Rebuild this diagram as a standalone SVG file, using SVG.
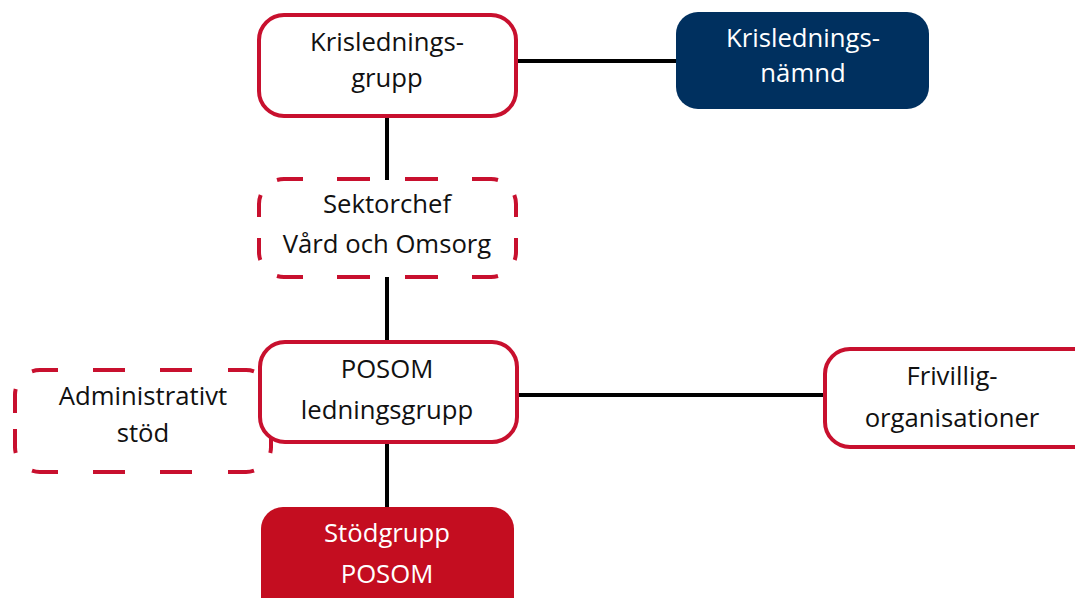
<svg xmlns="http://www.w3.org/2000/svg" width="1075" height="598" viewBox="0 0 1075 598">
<style>
.box{fill:#fff;stroke:#c8102e;stroke-width:4}
.dash{fill:none;stroke:#c8102e;stroke-width:4;stroke-linecap:butt}
.con{stroke:#000;stroke-width:4;fill:none}
text{font-family:"Open Sans","Noto Sans","Liberation Sans",sans-serif;font-size:25.7px;text-anchor:middle;fill:#111}
.w{fill:#fff}
</style>
<rect width="1075" height="598" fill="#fff"/>
<g id="connectors">
<path class="con" d="M518,61 H677"/>
<path class="con" d="M387,116 V180"/>
<path class="con" d="M387,277 V343"/>
<path class="con" d="M517,395 H826"/>
<path class="con" d="M387,442 V508"/>
</g>
<g id="krisledningsgrupp">
<rect class="box" x="259" y="15" width="257" height="101" rx="25"/>
<text x="387" y="51">Krislednings-</text>
<text x="387" y="87">grupp</text>
</g>
<g id="krisledningsnamnd">
<rect x="676" y="12" width="253" height="97" rx="22" fill="#00305f"/>
<text class="w" x="803" y="47">Krislednings-</text>
<text class="w" x="803" y="82">nämnd</text>
</g>
<g id="sektorchef">
<path class="dash" d="M277,180 A25,25 0 0 1 284,179 H303 M337,179 H370 M405,179 H438 M472,179 H491 A25,25 0 0 1 498,180 M277,276 A25,25 0 0 0 284,277 H303 M337,277 H370 M405,277 H438 M472,277 H491 A25,25 0 0 0 498,276 M260.7,195 A25,25 0 0 0 259,204 V217 M259,238 V252 A25,25 0 0 0 260.3,260 M514.3,195 A25,25 0 0 1 516,204 V217 M516,238 V252 A25,25 0 0 1 514.7,260"/>
<text x="387" y="213">Sektorchef</text>
<text x="387" y="253">Vård och Omsorg</text>
</g>
<g id="administrativt">
<path class="dash" d="M32,371.3 A25,25 0 0 1 40,370 H58 M93,370 H125 M160,370 H192 M228,370 H246 A25,25 0 0 1 254,371.3 M32,470.7 A25,25 0 0 0 40,472 H58 M93,472 H125 M160,472 H192 M228,472 H246 A25,25 0 0 0 254,470.7 M15.7,389 A25,25 0 0 0 15,395 V413 M15,429 V447 A25,25 0 0 0 15.7,453 M270.3,389 A25,25 0 0 1 271,395 V413 M271,429 V447 A25,25 0 0 1 270.3,453"/>
<text x="143" y="405">Administrativt</text>
<text x="143" y="442">stöd</text>
</g>
<g id="posom">
<rect class="box" x="260" y="342" width="257" height="100" rx="25"/>
<text x="387" y="378">POSOM</text>
<text x="387" y="419">ledningsgrupp</text>
</g>
<g id="frivillig">
<rect class="box" x="825" y="349" width="280" height="98" rx="25"/>
<text x="952" y="385">Frivillig-</text>
<text x="952" y="427">organisationer</text>
</g>
<g id="stodgrupp">
<rect x="261" y="507" width="253" height="120" rx="22" fill="#c40d20"/>
<text class="w" x="387" y="542">Stödgrupp</text>
<text class="w" x="387" y="583">POSOM</text>
</g>
</svg>
